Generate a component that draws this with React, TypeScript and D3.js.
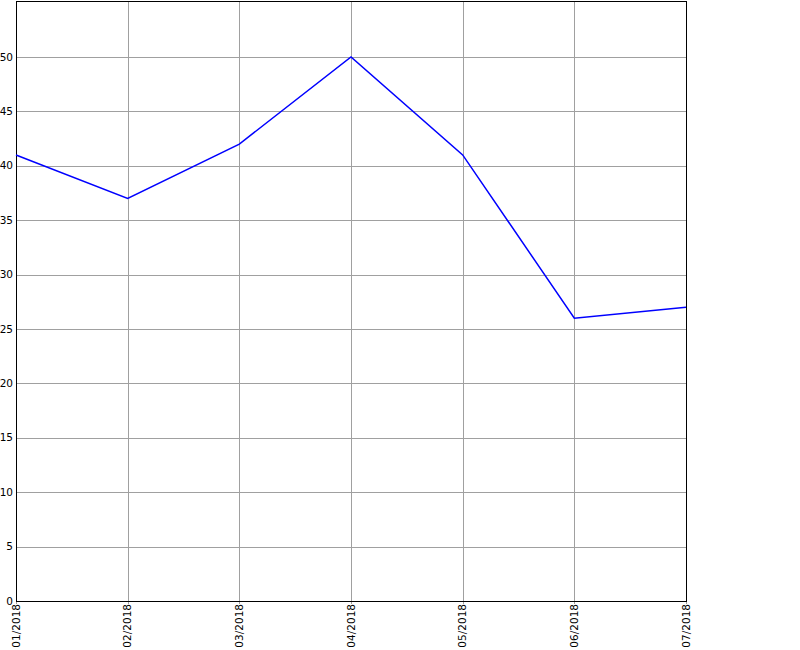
import React from "react";
import * as d3 from "d3";

const categories = ["01/2018", "02/2018", "03/2018", "04/2018", "05/2018", "06/2018", "07/2018"];
const values = [41, 37, 42, 50, 41, 26, 27];
const yTicks = [0, 5, 10, 15, 20, 25, 30, 35, 40, 45, 50];

export default function App() {
  const W = 800, H = 650;
  const left = 16, right = 686, top = 1, bottom = 601;
  const x = d3.scalePoint<string>().domain(categories).range([left, right]);
  const y = d3.scaleLinear().domain([0, 55.15]).range([bottom, top]);
  const line = d3.line<number>().x((_, i) => x(categories[i])!).y((d) => y(d));
  const font = "DejaVu Sans, Verdana, sans-serif";
  return (
    <svg width={W} height={H} style={{ position: "absolute", left: 0, top: 0, background: "#fff" }}>
      <rect x={0} y={0} width={W} height={H} fill="#fff" />
      {yTicks.map((t) => (
        <g key={t}>
          {t !== 0 && (
            <line x1={left} x2={right} y1={Math.round(y(t)) + 0.5} y2={Math.round(y(t)) + 0.5} stroke="#a0a0a0" strokeWidth={1} />
          )}
          <text x={13} y={y(t)} dy="0.35em" textAnchor="end" fontFamily={font} fontSize={10.5} fill="#000">
            {t}
          </text>
        </g>
      ))}
      {categories.map((c) => {
        const xp = Math.round(x(c)!) + 0.5;
        return (
          <g key={c}>
            <line x1={xp} x2={xp} y1={top} y2={bottom + 3} stroke="#a0a0a0" strokeWidth={1} />
            <text
              transform={`translate(${x(c)!},${bottom + 3}) rotate(-90)`}
              dy="0.35em"
              textAnchor="end"
              fontFamily={font}
              fontSize={10.5}
              fill="#000"
            >
              {c}
            </text>
          </g>
        );
      })}
      <rect x={left + 0.5} y={top + 0.5} width={right - left} height={bottom - top} fill="none" stroke="#000" strokeWidth={1} />
      <path d={line(values) || ""} fill="none" stroke="#0000ff" strokeWidth={1.5} />
    </svg>
  );
}
